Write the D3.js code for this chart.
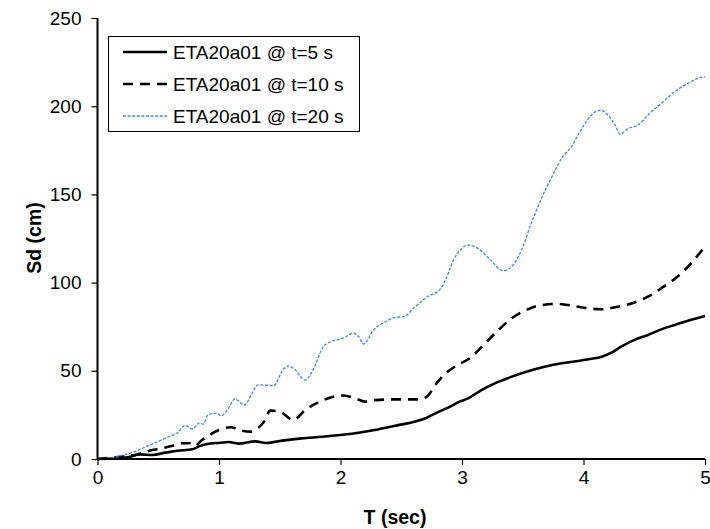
<!DOCTYPE html>
<html>
<head>
<meta charset="utf-8">
<script src="https://cdn.jsdelivr.net/npm/d3@7"></script>
<style>
  html, body { margin: 0; padding: 0; background: #fff; }
  svg { display: block; font-family: "Liberation Sans", Arial, sans-serif; }
</style>
</head>
<body>
<svg id="chart" width="710" height="529"></svg>
<script>
// Spectral displacement Sd (cm) versus period T (sec) for record ETA20a01,
// evaluated at three instants of the response.

const seriesNames = ["ETA20a01 @ t=5 s", "ETA20a01 @ t=10 s", "ETA20a01 @ t=20 s"];

const periods5 = [0, 0.15, 0.25, 0.35, 0.45, 0.56, 0.66, 0.78, 0.83, 0.9, 1.01, 1.08, 1.16, 1.3, 1.39, 1.52, 1.68, 1.85, 2.0, 2.12, 2.28, 2.45, 2.61, 2.7, 2.78, 2.89, 2.98, 3.05, 3.16, 3.27, 3.41, 3.55, 3.68, 3.82, 3.97, 4.04, 4.15, 4.23, 4.31, 4.42, 4.53, 4.64, 4.75, 4.86, 5.0];
const sd5 = [0, 0.4, 1, 2.6, 2.3, 3.6, 4.7, 5.5, 7, 8.5, 9.2, 9.6, 8.7, 10, 9.1, 10.4, 11.7, 12.6, 13.6, 14.6, 16.4, 18.9, 21.1, 23.1, 25.9, 29.3, 32.5, 34.4, 39.1, 42.9, 46.7, 49.9, 52.3, 54.3, 55.7, 56.6, 58, 60.3, 63.7, 67.5, 70.3, 73.5, 76, 78.4, 81.1];

const periods10 = [0, 0.19, 0.31, 0.45, 0.53, 0.61, 0.69, 0.76, 0.8, 0.86, 0.9, 0.97, 1.1, 1.17, 1.26, 1.32, 1.38, 1.42, 1.5, 1.61, 1.71, 1.86, 2.02, 2.15, 2.2, 2.28, 2.45, 2.64, 2.71, 2.78, 2.85, 2.94, 3.08, 3.19, 3.3, 3.41, 3.53, 3.66, 3.79, 3.94, 4.04, 4.15, 4.26, 4.4, 4.53, 4.66, 4.78, 4.89, 5.0];
const sd10 = [0, 1.3, 2.3, 5.1, 6, 7.4, 8.9, 8.9, 7.4, 10.8, 12.6, 15.5, 18, 16.4, 15.5, 17.4, 22.1, 27.4, 26.8, 22.1, 27.8, 33.4, 36, 33.6, 32.5, 33.4, 33.8, 33.8, 35.3, 42, 47.6, 52.3, 58, 65.6, 73.1, 79.8, 84.5, 87.3, 87.9, 86.5, 85.4, 84.9, 86, 88.3, 92, 97.7, 103.7, 111.3, 120.5];

const periods20 = [0, 0.1, 0.2, 0.3, 0.4, 0.5, 0.6, 0.66, 0.72, 0.78, 0.84, 0.87, 0.91, 0.98, 1.02, 1.08, 1.13, 1.21, 1.27, 1.32, 1.45, 1.53, 1.57, 1.62, 1.71, 1.77, 1.86, 1.92, 2.02, 2.11, 2.15, 2.19, 2.27, 2.37, 2.45, 2.52, 2.61, 2.71, 2.82, 2.87, 2.93, 3.0, 3.05, 3.13, 3.22, 3.34, 3.42, 3.49, 3.57, 3.66, 3.74, 3.82, 3.9, 3.97, 4.03, 4.08, 4.14, 4.2, 4.26, 4.3, 4.37, 4.45, 4.53, 4.64, 4.75, 4.86, 4.95, 5.0];
const sd20 = [0, 0.5, 2, 4, 7, 10, 13, 15, 19, 17, 20.5, 19.8, 25, 26, 24.5, 29, 34, 30.6, 37, 42, 41.6, 51, 52.8, 51, 44.8, 50, 63.8, 66.5, 68.5, 71.3, 69.3, 65.2, 73, 77.8, 80.3, 80.7, 86, 91.7, 96.2, 102.4, 112.8, 119.5, 121.3, 119.4, 113.8, 106.8, 110, 118.5, 133.6, 148.7, 160, 170.5, 177, 185.5, 192, 196, 197.8, 195, 189.3, 184.2, 187.5, 189.3, 195, 201.6, 208.2, 213, 216, 216.7];

const xTicks = [0, 1, 2, 3, 4, 5];
const yTicks = [0, 50, 100, 150, 200, 250];

const xTitle = "T (sec)";
const yTitle = "Sd (cm)";

// Line styles per series
const styles = [
  { stroke: "#000000", width: 2.6, dash: null },
  { stroke: "#000000", width: 2.6, dash: "10,7" },
  { stroke: "#3d86f5", width: 1.3, dash: "3,1.6" }
];

const series = [
  { name: seriesNames[0], points: periods5.map((t, i) => [t, sd5[i]]) },
  { name: seriesNames[1], points: periods10.map((t, i) => [t, sd10[i]]) },
  { name: seriesNames[2], points: periods20.map((t, i) => [t, sd20[i]]) }
];

const svg = d3.select("#chart");
const plot = { left: 97.5, right: 705, top: 18, bottom: 459 };

const x = d3.scaleLinear().domain([0, 5]).range([plot.left, plot.right]);
const y = d3.scaleLinear().domain([0, 250]).range([plot.bottom, plot.top]);

const line = d3.line()
  .x(d => x(d[0]))
  .y(d => y(d[1]))
  .curve(d3.curveMonotoneX);

// Curves (drawn under the axes)
const curves = svg.append("g");
series.forEach((s, i) => {
  curves.append("path")
    .datum(s.points)
    .attr("d", line)
    .attr("fill", "none")
    .attr("stroke", styles[i].stroke)
    .attr("stroke-width", styles[i].width)
    .attr("stroke-dasharray", styles[i].dash)
    .attr("stroke-linejoin", "round");
});

// Axes
const xAxis = svg.append("g")
  .attr("transform", `translate(0,${plot.bottom})`)
  .call(d3.axisBottom(x).tickValues(xTicks).tickFormat(d3.format("d")).tickSize(6).tickPadding(6));
const yAxis = svg.append("g")
  .attr("transform", `translate(${plot.left},0)`)
  .call(d3.axisLeft(y).tickValues(yTicks).tickFormat(d3.format("d")).tickSize(6).tickPadding(10));

[xAxis, yAxis].forEach(g => {
  g.select(".domain").attr("stroke", "#000").attr("stroke-width", 2);
  g.selectAll(".tick line").attr("stroke", "#000").attr("stroke-width", 1.2);
  g.selectAll(".tick text")
    .attr("fill", "#000")
    .attr("font-family", "'Liberation Sans', Arial, sans-serif")
    .attr("font-size", 19);
});
// keep the domain as a plain line without end caps
xAxis.select(".domain").attr("d", `M${plot.left},0H${plot.right}`);
yAxis.select(".domain").attr("d", `M0,${plot.bottom}V${plot.top}`);

// Axis titles
svg.append("text")
  .attr("x", 395)
  .attr("y", 524)
  .attr("text-anchor", "middle")
  .attr("font-weight", "bold")
  .attr("font-size", 19.5)
  .text(xTitle);

svg.append("text")
  .attr("transform", "translate(41,238) rotate(-90)")
  .attr("text-anchor", "middle")
  .attr("font-weight", "bold")
  .attr("font-size", 19.5)
  .text(yTitle);

// Legend
const legend = svg.append("g");
legend.append("rect")
  .attr("x", 108.5).attr("y", 36.5)
  .attr("width", 251).attr("height", 95)
  .attr("fill", "#fff")
  .attr("stroke", "#000")
  .attr("stroke-width", 1);

const rowY = [52, 84, 116];
series.forEach((s, i) => {
  legend.append("line")
    .attr("x1", 123).attr("x2", 167)
    .attr("y1", rowY[i]).attr("y2", rowY[i])
    .attr("stroke", styles[i].stroke)
    .attr("stroke-width", styles[i].width)
    .attr("stroke-dasharray", styles[i].dash);
  legend.append("text")
    .attr("x", 173)
    .attr("y", rowY[i])
    .attr("dy", "0.36em")
    .attr("font-size", 19)
    .attr("fill", "#000")
    .text(s.name);
});
</script>
</body>
</html>
